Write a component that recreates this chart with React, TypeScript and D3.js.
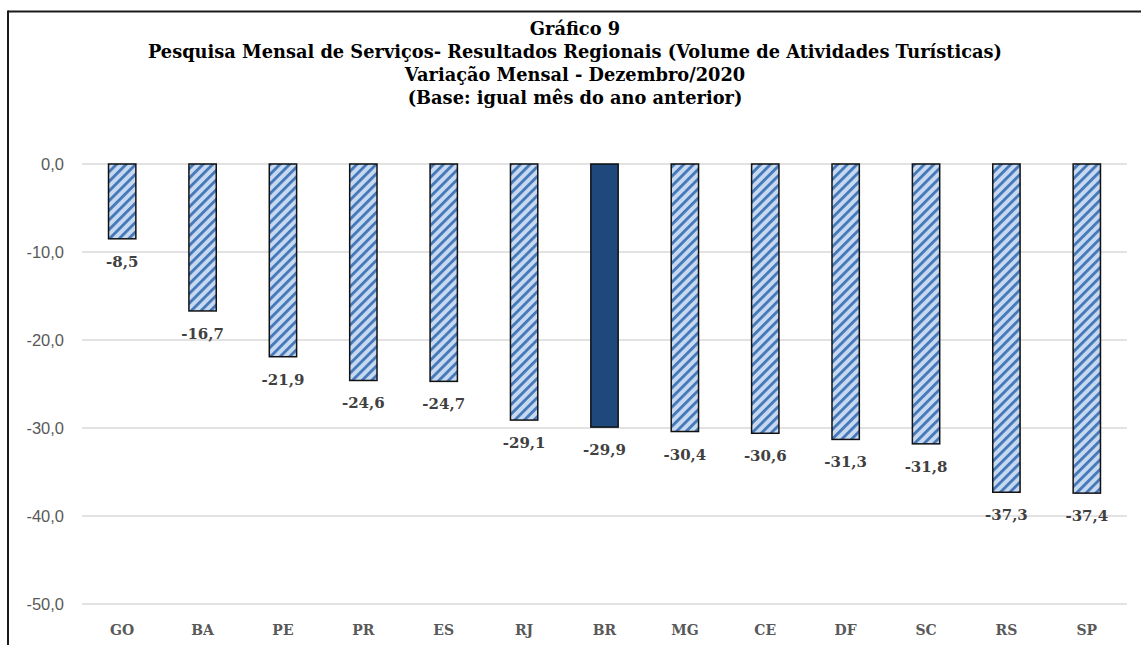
import React from "react";
import { scaleBand, scaleLinear } from "d3";

// chart data
const categories = ["GO", "BA", "PE", "PR", "ES", "RJ", "BR", "MG", "CE", "DF", "SC", "RS", "SP"];
const values = [-8.5, -16.7, -21.9, -24.6, -24.7, -29.1, -29.9, -30.4, -30.6, -31.3, -31.8, -37.3, -37.4];
const yTicks = [0, -10, -20, -30, -40, -50];
const titleLines = [
    "Gráfico 9",
    "Pesquisa Mensal de Serviços- Resultados Regionais (Volume de Atividades Turísticas)",
    "Variação Mensal - Dezembro/2020",
    "(Base: igual mês do ano anterior)",
];
const highlight = "BR";

const W = 1141;
const H = 645;

const fmt = (v: number) => v.toFixed(1).replace(".", ",");

export default function App() {
    const xScale = scaleBand<string>()
        .domain(categories)
        .range([82, 1127])
        .paddingInner(0.66)
        .paddingOuter(0.33);
    const yScale = scaleLinear().domain([-50, 0]).range([604, 164]);

    return (
        <div style={{ position: "absolute", left: 0, top: 0 }}>
            <svg width={W} height={H} style={{ display: "block", background: "#fff" }}>
                <defs>
                    <pattern id="hatch" width={6.8} height={6.8} patternUnits="userSpaceOnUse" patternTransform="rotate(45)">
                        <rect width={6.8} height={6.8} fill="#c6d9f1" />
                        <rect x={0} width={2.8} height={6.8} fill="#4477b8" />
                    </pattern>
                </defs>

                {/* outer frame */}
                <line x1={8} x2={W} y1={11.5} y2={11.5} stroke="#1a1a1a" strokeWidth={2} />
                <line x1={8} x2={8} y1={10.5} y2={H} stroke="#1a1a1a" strokeWidth={2} />

                {/* title */}
                {titleLines.map((t, i) => (
                    <text key={i} x={575} y={35 + i * 23} textAnchor="middle"
                          fontFamily="'DejaVu Serif', serif" fontWeight="bold" fontSize={17.8} fill="#000">
                        {t}
                    </text>
                ))}

                {/* grid + y axis */}
                {yTicks.map(t => (
                    <g key={t}>
                        <line x1={82} x2={1127} y1={yScale(t)} y2={yScale(t)} stroke="#d9d9d9" strokeWidth={1.5} />
                        <text x={64} y={yScale(t) + 6} textAnchor="end"
                              fontFamily="'Liberation Sans', sans-serif" fontSize={16.5} fill="#595959">
                            {fmt(t)}
                        </text>
                    </g>
                ))}

                {/* bars */}
                {categories.map((c, i) => (
                    <rect key={c}
                          x={xScale(c)}
                          y={yScale(0)}
                          width={xScale.bandwidth()}
                          height={yScale(values[i]) - yScale(0)}
                          fill={c === highlight ? "#1f497d" : "url(#hatch)"}
                          stroke="#111"
                          strokeWidth={1.5} />
                ))}

                {/* value labels */}
                {categories.map((c, i) => (
                    <text key={c}
                          x={(xScale(c) ?? 0) + xScale.bandwidth() / 2}
                          y={yScale(values[i]) + 28}
                          textAnchor="middle"
                          fontFamily="'DejaVu Serif', serif" fontWeight="bold" fontSize={15} fill="#404040">
                        {fmt(values[i])}
                    </text>
                ))}

                {/* x labels */}
                {categories.map(c => (
                    <text key={c}
                          x={(xScale(c) ?? 0) + xScale.bandwidth() / 2}
                          y={635}
                          textAnchor="middle"
                          fontFamily="'DejaVu Serif', serif" fontWeight="bold" fontSize={14} fill="#595959">
                        {c}
                    </text>
                ))}
            </svg>
        </div>
    );
}
